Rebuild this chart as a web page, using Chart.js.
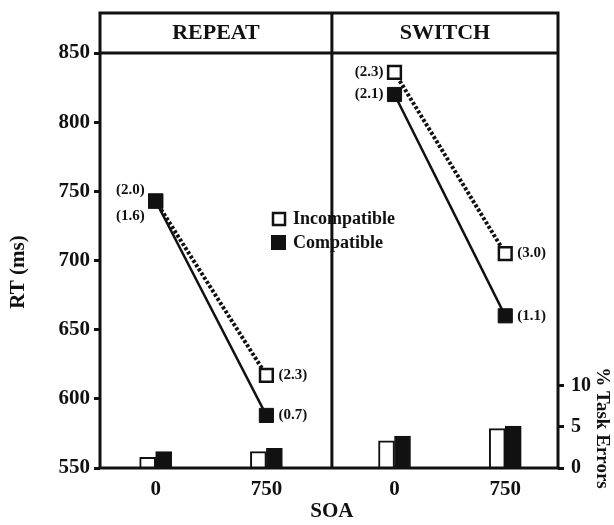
<!DOCTYPE html>
<html lang="en">
<head>
<meta charset="UTF-8">
<title>RT and task errors by SOA</title>
<script src="https://cdn.jsdelivr.net/npm/chart.js"></script>
<style>
  html, body { margin: 0; padding: 0; background: #fff; }
</style>
</head>
<body>
<canvas id="rt-chart" width="614" height="525"></canvas>
<script>
    // panels and SOA categories
    const panels = ['REPEAT', 'SWITCH'];
    const soaLabels = ['0', '750'];

    // RT (ms), one row per panel, one value per SOA
    const rtIncompatible = [[743, 617], [836, 705]];
    const rtCompatible = [[743, 588], [820, 660]];

    // error rates printed next to the points
    const errTextIncompatible = [['2.0', '2.3'], ['2.3', '3.0']];
    const errTextCompatible = [['1.6', '0.7'], ['2.1', '1.1']];

    // % task errors (bars)
    const errIncompatible = [[1.3, 2.0], [3.3, 4.8]];
    const errCompatible = [[2.0, 2.4], [3.9, 5.1]];

    const rtTicks = [550, 600, 650, 700, 750, 800, 850];
    const errTicks = [0, 5, 10];

    const INK = '#111';
    const SERIF = '"Liberation Serif", "Times New Roman", serif';

    // x position of a point: panel p, soa index i
    function xPos(p, i) {
        return p * 2.06 + 0.48 + i * 0.955;
    }
    const tickPositions = [];
    panels.forEach((_, p) => soaLabels.forEach((_, i) => tickPositions.push(xPos(p, i))));

    function pts(rows) {
        const out = [];
        rows.forEach((row, p) => row.forEach((v, i) => out.push({ x: xPos(p, i), y: v })));
        return out;
    }

    const datasets = [];
    panels.forEach((name, p) => {
        datasets.push({
            type: 'line',
            label: 'Incompatible ' + name,
            data: rtIncompatible[p].map((v, i) => ({ x: xPos(p, i), y: v })),
            yAxisID: 'y',
            borderColor: INK,
            borderWidth: 4,
            borderDash: [3, 2],
            pointStyle: 'rect',
            pointRadius: 9,
            pointBackgroundColor: '#fff',
            pointBorderColor: INK,
            pointBorderWidth: 2.5,
            tension: 0,
            fill: false,
            order: 1
        });
        datasets.push({
            type: 'line',
            label: 'Compatible ' + name,
            data: rtCompatible[p].map((v, i) => ({ x: xPos(p, i), y: v })),
            yAxisID: 'y',
            borderColor: INK,
            borderWidth: 2.5,
            pointStyle: 'rect',
            pointRadius: 10,
            pointBackgroundColor: INK,
            pointBorderColor: INK,
            pointBorderWidth: 1,
            tension: 0,
            fill: false,
            order: 0
        });
    });
    datasets.push({
        type: 'bar',
        label: 'Errors incompatible',
        data: pts(errIncompatible),
        yAxisID: 'y2',
        backgroundColor: '#fff',
        borderColor: INK,
        borderWidth: 2,
        barThickness: 16,
        order: 2
    });
    datasets.push({
        type: 'bar',
        label: 'Errors compatible',
        data: pts(errCompatible),
        yAxisID: 'y2',
        backgroundColor: INK,
        borderColor: INK,
        borderWidth: 1,
        barThickness: 16,
        order: 2
    });

    // frame, headers, titles, legend and the error labels
    const decor = {
        id: 'decor',
        afterDraw(chart) {
            const { ctx, chartArea: a, scales } = chart;
            const top = a.top - 40;
            const divX = scales.x.getPixelForValue(2.0);
            ctx.save();
            ctx.strokeStyle = INK;
            ctx.fillStyle = INK;
            ctx.lineWidth = 3;
            ctx.strokeRect(a.left, top, a.right - a.left, a.bottom - top);
            ctx.beginPath();
            ctx.moveTo(a.left, a.top); ctx.lineTo(a.right, a.top);
            ctx.moveTo(divX, top); ctx.lineTo(divX, a.bottom);
            ctx.stroke();

            ctx.textBaseline = 'middle';
            ctx.textAlign = 'center';
            ctx.font = 'bold 22px ' + SERIF;
            ctx.fillText(panels[0], (a.left + divX) / 2, top + 20);
            ctx.fillText(panels[1], (divX + a.right) / 2, top + 20);

            ctx.font = 'bold 21px ' + SERIF;
            ctx.fillText('SOA', divX, 512);

            ctx.save();
            ctx.translate(19, 272);
            ctx.rotate(-Math.PI / 2);
            ctx.fillText('RT (ms)', 0, 0);
            ctx.restore();

            ctx.save();
            ctx.translate(602, 428);
            ctx.rotate(Math.PI / 2);
            ctx.font = 'bold 19px ' + SERIF;
            ctx.fillText('% Task Errors', 0, 0);
            ctx.restore();

            // legend
            ctx.font = 'bold 18px ' + SERIF;
            ctx.textAlign = 'left';
            ctx.lineWidth = 2.5;
            ctx.fillStyle = '#fff';
            ctx.fillRect(273, 213, 12, 12);
            ctx.strokeRect(273, 213, 12, 12);
            ctx.fillStyle = INK;
            ctx.fillRect(271, 235, 15, 15);
            ctx.fillText('Incompatible', 293, 219);
            ctx.fillText('Compatible', 293, 243);

            // error labels beside the points
            ctx.font = 'bold 15px ' + SERIF;
            panels.forEach((_, p) => {
                soaLabels.forEach((_, i) => {
                    const px = scales.x.getPixelForValue(xPos(p, i));
                    let yi = scales.y.getPixelForValue(rtIncompatible[p][i]);
                    let yc = scales.y.getPixelForValue(rtCompatible[p][i]);
                    if (Math.abs(yi - yc) < 18) { yi -= 11; yc += 15; }
                    ctx.textAlign = i === 0 ? 'right' : 'left';
                    const lx = i === 0 ? px - 11 : px + 12;
                    ctx.fillText('(' + errTextIncompatible[p][i] + ')', lx, yi);
                    ctx.fillText('(' + errTextCompatible[p][i] + ')', lx, yc);
                });
            });
            ctx.restore();
        }
    };

    const tickFont = { family: SERIF, size: 21, weight: 'bold' };

    new Chart(document.getElementById('rt-chart'), {
        data: { datasets: datasets },
        options: {
            responsive: false,
            animation: false,
            devicePixelRatio: 1,
            layout: { padding: { top: 53, left: 0, right: 0, bottom: 0 } },
            plugins: { legend: { display: false }, tooltip: { enabled: false } },
            scales: {
                x: {
                    type: 'linear',
                    min: 0,
                    max: 3.95,
                    offset: false,
                    afterBuildTicks: s => { s.ticks = tickPositions.map(v => ({ value: v })); },
                    afterFit: s => { s.height = 57; },
                    grid: { display: false, offset: false },
                    border: { display: false },
                    ticks: {
                        color: INK,
                        font: tickFont,
                        padding: 1,
                        maxRotation: 0,
                        autoSkip: false,
                        callback: (v, i) => soaLabels[i % soaLabels.length]
                    }
                },
                y: {
                    position: 'left',
                    min: 550,
                    max: 850,
                    afterBuildTicks: s => { s.ticks = rtTicks.map(v => ({ value: v })); },
                    afterFit: s => { s.width = 100; },
                    grid: { drawOnChartArea: false, tickLength: 6, tickWidth: 3, tickColor: INK },
                    border: { display: false },
                    ticks: { color: INK, font: tickFont, padding: 4 }
                },
                y2: {
                    position: 'right',
                    min: 0,
                    max: 50.6,
                    afterBuildTicks: s => { s.ticks = errTicks.map(v => ({ value: v })); },
                    afterFit: s => { s.width = 56; },
                    grid: { drawOnChartArea: false, tickLength: 6, tickWidth: 3, tickColor: INK },
                    border: { display: false },
                    ticks: { color: INK, font: { family: SERIF, size: 20, weight: 'bold' }, padding: 7 }
                }
            }
        },
        plugins: [decor]
    });
</script>
</body>
</html>
